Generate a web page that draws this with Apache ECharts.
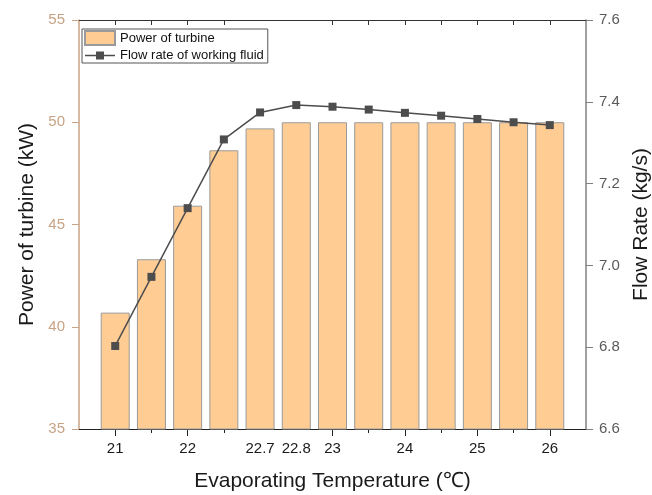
<!DOCTYPE html>
<html>
<head>
<meta charset="utf-8">
<script src="https://cdn.jsdelivr.net/npm/echarts@6/dist/echarts.min.js"></script>
<style>
  html, body { margin: 0; padding: 0; background: #fff; }
  #chart { width: 652px; height: 495px; }
</style>
</head>
<body>
<div id="chart"></div>
<script>
// 13 evenly spaced temperature steps, only some are labelled
const tickLabels = ['21', '', '22', '', '22.7', '22.8', '23', '', '24', '', '25', '', '26']
const labelIdx = [0, 2, 4, 5, 6, 8, 10, 12]
const majorIdx = [0, 2, 6, 8, 10, 12]
const minorIdx = [1, 3, 7, 9, 11]
const topTickIdx = [0, 1, 2, 3, 6, 7, 8, 9, 10, 11, 12]

const power = [40.69, 43.3, 45.92, 48.63, 49.7, 50.0, 50.0, 50.0, 50.0, 50.0, 50.0, 50.0, 50.0]
const flow = [6.803, 6.972, 7.14, 7.308, 7.374, 7.392, 7.388, 7.381, 7.373, 7.366, 7.358, 7.35, 7.343]

const FONT = '"Liberation Sans", Arial, sans-serif'
const TAN = '#c8a385'
const GRAY = '#808080'
const LINE = '#4d4d4d'

const chart = echarts.init(document.getElementById('chart'))

const xBase = { type: 'value', min: -1, max: 13, interval: 1, splitLine: { show: false } }

chart.setOption({
  animation: false,
  textStyle: { fontFamily: FONT },
  grid: { left: 79, right: 66, top: 20, bottom: 66, containLabel: false, outerBoundsMode: 'none' },
  legend: {
    left: 82,
    top: 29,
    orient: 'vertical',
    itemWidth: 30,
    itemHeight: 14,
    itemGap: 3,
    padding: [1, 4, 1, 2],
    borderColor: '#555',
    borderWidth: 1,
    symbolKeepAspect: true,
    textStyle: { fontFamily: FONT, fontSize: 13, color: '#111' },
    data: [
      { name: 'Power of turbine', icon: 'rect' },
      {
        name: 'Flow rate of working fluid',
        icon: 'path://M0,6.25H11V3H19V6.25H30V7.75H19V11H11V7.75H0Z',
        itemStyle: { color: LINE, borderWidth: 0 },
      },
    ],
  },
  xAxis: [
    {
      ...xBase,
      position: 'bottom',
      name: 'Evaporating Temperature (℃)',
      nameLocation: 'middle',
      nameGap: 42,
      nameTextStyle: { fontFamily: FONT, fontSize: 21, color: '#1a1a1a' },
      axisLine: { show: true, onZero: false, lineStyle: { color: '#222', width: 1 } },
      axisTick: { show: true, inside: false, length: 7, customValues: majorIdx, lineStyle: { color: '#222' } },
      axisLabel: {
        show: true,
        margin: 12,
        fontSize: 15,
        color: '#1a1a1a',
        fontFamily: FONT,
        customValues: labelIdx,
        formatter: (v) => tickLabels[v] ?? '',
      },
    },
    {
      ...xBase,
      position: 'bottom',
      axisLine: { show: false, onZero: false },
      axisTick: { show: true, inside: false, length: 4, customValues: minorIdx, lineStyle: { color: '#222' } },
      axisLabel: { show: false },
    },
    {
      ...xBase,
      position: 'top',
      axisLine: { show: true, onZero: false, lineStyle: { color: '#333', width: 1 } },
      axisTick: { show: true, inside: true, length: 5, customValues: topTickIdx, lineStyle: { color: '#333' } },
      axisLabel: { show: false },
    },
  ],
  yAxis: [
    {
      type: 'value',
      position: 'left',
      min: 35,
      max: 55,
      interval: 5,
      name: 'Power of turbine (kW)',
      nameLocation: 'middle',
      nameGap: 40,
      nameTextStyle: { fontFamily: FONT, fontSize: 21, color: '#1a1a1a' },
      splitLine: { show: false },
      axisLine: { show: true, onZero: false, lineStyle: { color: TAN, width: 1.5 } },
      axisTick: { show: true, inside: false, length: 7, lineStyle: { color: TAN } },
      axisLabel: { margin: 14, fontSize: 15, color: TAN, fontFamily: FONT },
    },
    {
      type: 'value',
      position: 'right',
      min: 6.6,
      max: 7.6,
      interval: 0.2,
      name: 'Flow Rate (kg/s)',
      nameLocation: 'middle',
      nameGap: 42,
      nameTextStyle: { fontFamily: FONT, fontSize: 21, color: '#1a1a1a' },
      splitLine: { show: false },
      axisLine: { show: true, onZero: false, lineStyle: { color: GRAY, width: 1.5 } },
      axisTick: { show: true, inside: false, length: 7, lineStyle: { color: GRAY } },
      axisLabel: { margin: 13, fontSize: 15, color: '#5a5a5a', fontFamily: FONT, formatter: (v) => v.toFixed(1) },
    },
  ],
  series: [
    {
      name: 'Power of turbine',
      type: 'bar',
      xAxisIndex: 0,
      yAxisIndex: 0,
      barWidth: 29,
      itemStyle: { color: '#ffcc94', borderColor: '#9a9a9a', borderWidth: 1 },
      data: power.map((v, i) => [i, v]),
    },
    {
      name: 'Flow rate of working fluid',
      type: 'line',
      xAxisIndex: 0,
      yAxisIndex: 1,
      symbol: 'rect',
      symbolSize: 8,
      lineStyle: { color: LINE, width: 1.5 },
      itemStyle: { color: LINE },
      data: flow.map((v, i) => [i, v]),
    },
  ],
})
</script>
</body>
</html>
